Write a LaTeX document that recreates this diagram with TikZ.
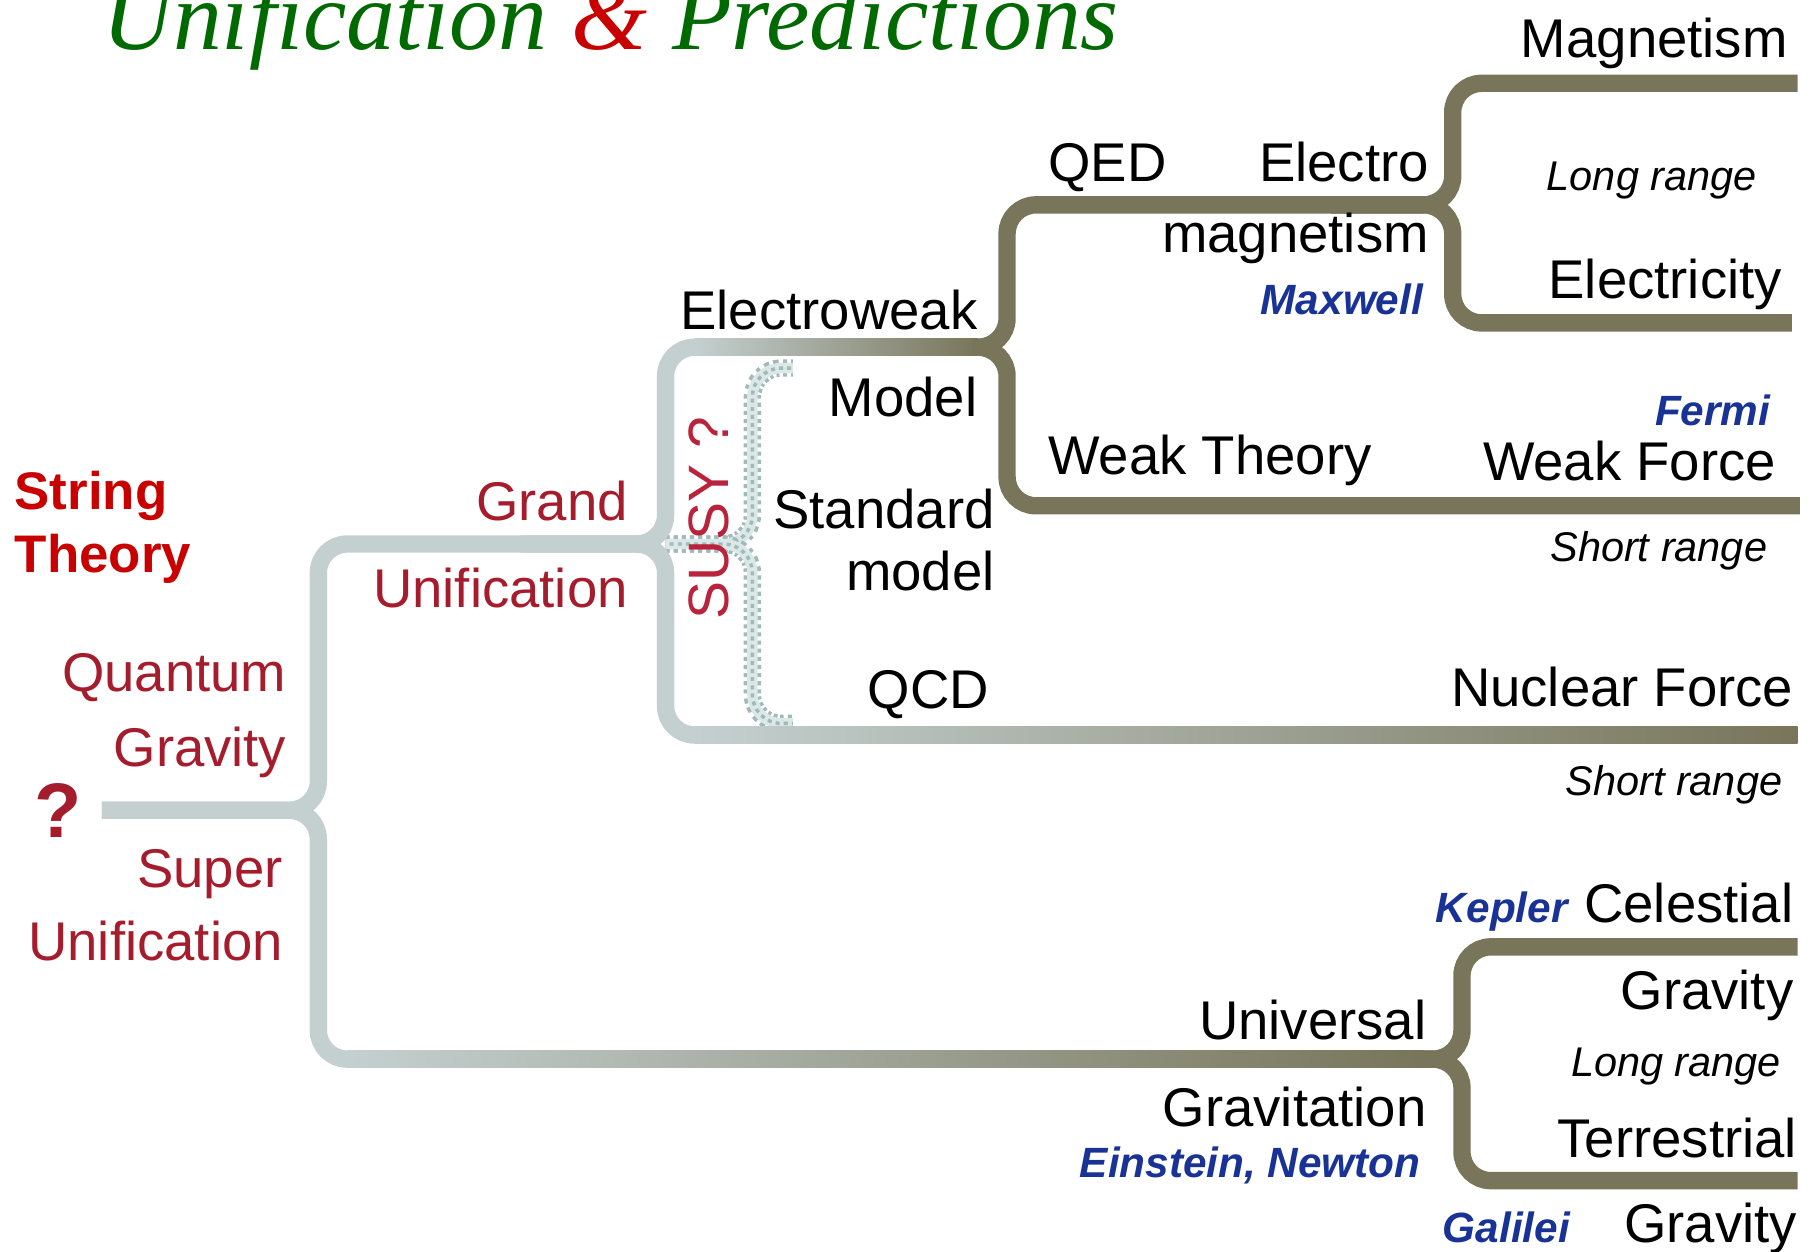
\documentclass[tikz,border=0pt]{standalone}
\usepackage{fontspec}
\setmainfont{Liberation Sans}
\newfontfamily\titlefont{Liberation Serif}
\usetikzlibrary{positioning}
\definecolor{treegray}{RGB}{196,208,208}
\definecolor{treeolive}{RGB}{120,117,90}
\definecolor{susydots}{RGB}{160,185,185}
\definecolor{susylight}{RGB}{220,232,232}
\definecolor{qred}{RGB}{165,28,45}
\definecolor{susyred}{RGB}{185,35,60}
\definecolor{strred}{RGB}{200,0,0}
\definecolor{namblue}{RGB}{25,50,150}
\definecolor{titlegreen}{RGB}{0,105,0}

\begin{document}
\begin{tikzpicture}[
  branch/.style={line width=1.5mm, rounded corners=2.5mm},
  susy/.style={branch, draw=susydots, dash pattern=on 1pt off 1pt,
    postaction={draw=susylight, line width=0.9mm, solid},
    postaction={draw=susydots, line width=0.3mm, dash pattern=on 1pt off 1pt, dash phase=1pt}},
  lbl/.style={inner sep=0pt, font=\fontsize{13.4}{16}\selectfont},
  redlbl/.style={lbl, text=qred},
  who/.style={inner sep=0pt, text=namblue, font=\fontsize{10.4}{12}\selectfont\bfseries\itshape},
  rng/.style={inner sep=0pt, anchor=base, font=\fontsize{10.2}{12}\selectfont\itshape}]
 \fill[white] (0,0) rectangle (15.68,10.81);
 \clip (0,0) rectangle (15.68,10.81);
 % junctions
 \coordinate (start) at (0.88,3.81);
 \coordinate (j0) at (2.75,3.81);
 \coordinate (j1) at (5.75,6.11);
 \coordinate (susy) at (6.50,6.11);
 \coordinate (j2) at (8.70,7.81);
 \coordinate (j3) at (12.55,9.04);
 \coordinate (j4) at (12.63,1.66);
 % SUSY brace
 \draw[susy] (j1) -- (susy) |- (6.85,7.63);
 \draw[susy] (j1) -- (susy) |- (6.85,4.56);
 % gray part
 \draw[branch, treegray] (start) -- (j0) |- (j1) |- (6.1,7.81);
 \draw[branch, treegray] (start) -- (j0) |- (3.1,1.66);
 \draw[branch, treegray] (4.5,6.11) -- (j1) |- (6.1,4.46);
 \shade[left color=treegray, right color=treeolive] (6.0,7.735) rectangle (8.45,7.885);
 \shade[left color=treegray, right color=treeolive] (6.0,4.385) rectangle (15.53,4.535);
 \shade[left color=treegray, right color=treeolive] (3.0,1.585) rectangle (12.3,1.735);
 % olive part
 \draw[branch, treeolive] (8.4,7.81) -- (j2) |- (j3) |- (15.53,10.09);
 \draw[branch, treeolive] (8.4,7.81) -- (j2) |- (15.55,6.44);
 \draw[branch, treeolive] (11.5,9.04) -- (j3) |- (15.48,8.02);
 \draw[branch, treeolive] (12.2,1.66) -- (j4) |- (15.53,2.63);
 \draw[branch, treeolive] (12.2,1.66) -- (j4) |- (15.53,0.61);

 \node[anchor=base west, inner sep=0pt, text=titlegreen, font=\titlefont\itshape\fontsize{24}{28}\selectfont] (title) at (0.88,10.38) {Unification {\color{strred}\&} Predictions};

 \node[lbl, anchor=base east] (magn) at (15.45,10.31) {Magnetism};
 \node[rng] (long1) at (14.27,9.16) {Long range};
 \node[lbl, anchor=base east] (elec) at (15.40,8.23) {Electricity};
 \node[lbl, anchor=base west] (qed) at (9.05,9.24) {QED};
 \node[lbl, anchor=base east] (em1) at (12.35,9.24) {Electro};
 \node[lbl, anchor=base east] (em2) at (12.35,8.63) {magnetism};
 \node[who, anchor=base east] (maxwell) at (12.30,8.09) {Maxwell};
 \node[lbl, anchor=base east] (ew) at (8.45,7.96) {Electroweak};
 \node[lbl, anchor=base east] (model) at (8.45,7.21) {Model};
 \node[lbl, anchor=base east] (std1) at (8.60,6.24) {Standard};
 \node[lbl, anchor=base east] (std2) at (8.60,5.71) {model};
 \node[lbl, anchor=base west] (weakth) at (9.05,6.71) {Weak Theory};
 \node[who, anchor=base east] (fermi) at (15.30,7.13) {Fermi};
 \node[lbl, anchor=base east] (weakf) at (15.35,6.66) {Weak Force};
 \node[rng] (short1) at (14.33,5.96) {Short range};
 \node[lbl, anchor=base east] (qcd) at (8.55,4.69) {QCD};
 \node[lbl, anchor=base east] (nucl) at (15.50,4.71) {Nuclear Force};
 \node[rng] (short2) at (14.46,3.94) {Short range};
 \node[rotate=90, inner sep=0pt, text=susyred, font=\fontsize{14}{16}\selectfont] (susytxt) at (6.12,6.33) {SUSY ?};

 \node[inner sep=0pt, anchor=base west, text=strred, font=\fontsize{13}{15}\selectfont\bfseries] (str1) at (0.12,6.41) {String};
 \node[inner sep=0pt, anchor=base west, text=strred, font=\fontsize{13}{15}\selectfont\bfseries] (str2) at (0.12,5.86) {Theory};
 \node[redlbl, anchor=base east] (gut1) at (5.43,6.31) {Grand};
 \node[redlbl, anchor=base east] (gut2) at (5.43,5.56) {Unification};
 \node[redlbl, anchor=base east] (qg1) at (2.48,4.84) {Quantum};
 \node[redlbl, anchor=base east] (qg2) at (2.48,4.19) {Gravity};
 \node[inner sep=0pt, text=qred, font=\fontsize{19}{20}\selectfont\bfseries] (qmark) at (0.50,3.81) {?};
 \node[redlbl, anchor=base east] (su1) at (2.45,3.14) {Super};
 \node[redlbl, anchor=base east] (su2) at (2.45,2.51) {Unification};

 \node[who, anchor=base east] (kepler) at (13.55,2.84) {Kepler};
 \node[lbl, anchor=base east] (cel1) at (15.50,2.84) {Celestial};
 \node[lbl, anchor=base east] (cel2) at (15.50,2.09) {Gravity};
 \node[rng] (long2) at (14.48,1.51) {Long range};
 \node[lbl, anchor=base east] (ug1) at (12.33,1.83) {Universal};
 \node[lbl, anchor=base east] (ug2) at (12.33,1.08) {Gravitation};
 \node[who, anchor=base east] (einst) at (12.28,0.64) {Einstein, Newton};
 \node[lbl, anchor=base east] (ter1) at (15.53,0.81) {Terrestrial};
 \node[who, anchor=base east] (galilei) at (13.57,0.08) {Galilei};
 \node[lbl, anchor=base east] (ter2) at (15.53,0.08) {Gravity};
\end{tikzpicture}
\end{document}
